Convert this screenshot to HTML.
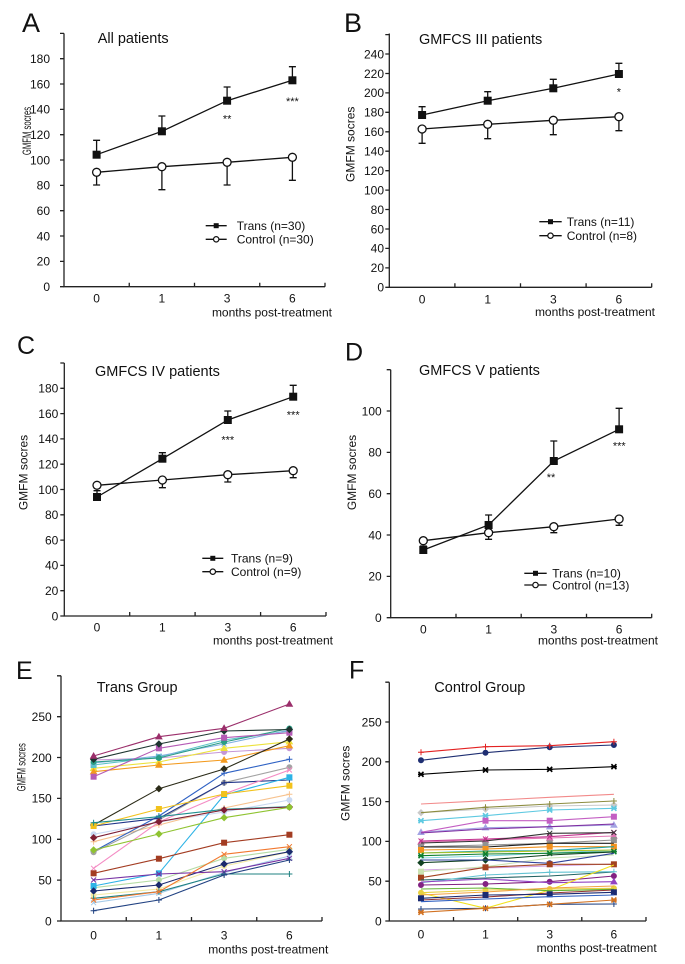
<!DOCTYPE html>
<html><head><meta charset="utf-8"><style>
html,body{margin:0;padding:0;background:#fff}
svg{display:block}
text{font-family:"Liberation Sans",Arial,sans-serif;fill:#111}
.t{font-size:12px}
.ti{font-size:14.5px}
.L{font-size:27px}
.L2{font-size:25px}
.st{font-size:11px}
.ax{fill:none;stroke:#222;stroke-width:1.3}
.ln{fill:none;stroke:#111;stroke-width:1.3}
.sp polyline{fill:none;stroke-width:1.1}
.sp use{stroke-width:1}
</style></head><body>
<svg width="685" height="964" viewBox="0 0 685 964" xmlns="http://www.w3.org/2000/svg">
<defs>
<rect id="s" x="-2.5" y="-2.5" width="5" height="5"/>
<circle id="c" cx="0" cy="0" r="2.5"/>
<polygon id="t" points="0,-3 3,2.2 -3,2.2"/>
<polygon id="d" points="0,-3 3,0 0,3 -3,0"/>
<path id="x" d="M-2.5,-2.5L2.5,2.5M-2.5,2.5L2.5,-2.5" fill="none"/>
<path id="p" d="M-3,0H3M0,-3V3" fill="none"/>
<path id="a" d="M-2.5,-2.5L2.5,2.5M-2.5,2.5L2.5,-2.5M-3,0H3" fill="none" stroke-width="1.6"/>
</defs>

<!-- ================= PANEL A ================= -->
<text class="L" x="22" y="32">A</text>
<text class="ti" x="97.7" y="43">All patients</text>
<path class="ax" d="M64,33.4V286.7H325"/>
<path class="ax" d="M60,286.7h4M60,261.4h4M60,236h4M60,210.7h4M60,185.4h4M60,160h4M60,134.7h4M60,109.4h4M60,84h4M60,58.7h4M60,33.4h4M129.25,286.7v-4M194.5,286.7v-4M259.75,286.7v-4M325,286.7v-4"/>
<g class="t" text-anchor="end">
<text x="50" y="291">0</text><text x="50" y="265.7">20</text><text x="50" y="240.3">40</text><text x="50" y="215">60</text><text x="50" y="189.7">80</text><text x="50" y="164.3">100</text><text x="50" y="139">120</text><text x="50" y="113.7">140</text><text x="50" y="88.3">160</text><text x="50" y="63">180</text>
</g>
<g class="t" text-anchor="middle">
<text x="96.6" y="302.5">0</text><text x="161.9" y="302.5">1</text><text x="227.1" y="302.5">3</text><text x="292.4" y="302.5">6</text>
</g>
<text class="t" x="332" y="316.5" text-anchor="end">months post-treatment</text>
<text class="t" x="0" y="4.3" text-anchor="middle" transform="translate(26.7,131) rotate(-90) scale(0.64,1)">GMFM socres</text>
<path class="ln" d="M96.6,154.7V140.3M93.1,140.3h7M161.9,131.3V116M158.4,116h7M227.1,100.7V87M223.6,87h7M292.4,80.3V66.7M288.9,66.7h7"/>
<path class="ln" d="M96.6,172.3V185M93.1,185h7M161.9,166.7V189.7M158.4,189.7h7M227.1,162.3V185M223.6,185h7M292.4,157.3V180.3M288.9,180.3h7"/>
<polyline class="ln" points="96.6,154.7 161.9,131.3 227.1,100.7 292.4,80.3"/>
<polyline class="ln" points="96.6,172.3 161.9,166.7 227.1,162.3 292.4,157.3"/>
<g fill="#111"><rect x="92.6" y="150.7" width="8" height="8"/><rect x="157.9" y="127.3" width="8" height="8"/><rect x="223.1" y="96.7" width="8" height="8"/><rect x="288.4" y="76.3" width="8" height="8"/></g>
<g fill="#fff" stroke="#111" stroke-width="1.3"><circle cx="96.6" cy="172.3" r="4"/><circle cx="161.9" cy="166.7" r="4"/><circle cx="227.1" cy="162.3" r="4"/><circle cx="292.4" cy="157.3" r="4"/></g>
<text class="st" x="227.1" y="122.7" text-anchor="middle">**</text>
<text class="st" x="292.4" y="105" text-anchor="middle">***</text>
<path class="ln" d="M205.7,225.7H226.7M205.7,239.3H226.7"/>
<rect x="213.7" y="223.2" width="5" height="5" fill="#111"/>
<circle cx="216.2" cy="239.3" r="2.7" fill="#fff" stroke="#111" stroke-width="1.2"/>
<text class="t" x="236.7" y="230">Trans (n=30)</text>
<text class="t" x="236.7" y="243.6">Control (n=30)</text>

<!-- ================= PANEL B ================= -->
<text class="L" x="344" y="32">B</text>
<text class="ti" x="419" y="44">GMFCS III patients</text>
<path class="ax" d="M389.3,33.5V287.3H651.7"/>
<path class="ax" d="M385.3,287.3h4M385.3,267.9h4M385.3,248.4h4M385.3,229h4M385.3,209.5h4M385.3,190.1h4M385.3,170.7h4M385.3,151.2h4M385.3,131.8h4M385.3,112.3h4M385.3,92.9h4M385.3,73.5h4M385.3,54h4M385.3,34.6h4M454.9,287.3v-4M520.5,287.3v-4M586.1,287.3v-4M651.7,287.3v-4"/>
<g class="t" text-anchor="end">
<text x="384" y="291.6">0</text><text x="384" y="272.2">20</text><text x="384" y="252.7">40</text><text x="384" y="233.3">60</text><text x="384" y="213.8">80</text><text x="384" y="194.4">100</text><text x="384" y="175">120</text><text x="384" y="155.5">140</text><text x="384" y="136.1">160</text><text x="384" y="116.6">180</text><text x="384" y="97.2">200</text><text x="384" y="77.8">220</text><text x="384" y="58.3">240</text>
</g>
<g class="t" text-anchor="middle">
<text x="422.1" y="303.5">0</text><text x="487.7" y="303.5">1</text><text x="553.3" y="303.5">3</text><text x="618.9" y="303.5">6</text>
</g>
<text class="t" x="655" y="316" text-anchor="end">months post-treatment</text>
<text class="t" x="0" y="4.3" text-anchor="middle" transform="translate(350,144.3) rotate(-90)">GMFM socres</text>
<path class="ln" d="M422.1,115V106.7M418.6,106.7h7M487.7,100.7V91.7M484.2,91.7h7M553.3,88.3V79.3M549.8,79.3h7M618.9,74V63.3M615.4,63.3h7"/>
<path class="ln" d="M422.1,129V143.3M418.6,143.3h7M487.7,124.3V138.7M484.2,138.7h7M553.3,120.3V134.7M549.8,134.7h7M618.9,116.7V130.7M615.4,130.7h7"/>
<polyline class="ln" points="422.1,115 487.7,100.7 553.3,88.3 618.9,74"/>
<polyline class="ln" points="422.1,129 487.7,124.3 553.3,120.3 618.9,116.7"/>
<g fill="#111"><rect x="418.1" y="111" width="8" height="8"/><rect x="483.7" y="96.7" width="8" height="8"/><rect x="549.3" y="84.3" width="8" height="8"/><rect x="614.9" y="70" width="8" height="8"/></g>
<g fill="#fff" stroke="#111" stroke-width="1.3"><circle cx="422.1" cy="129" r="4"/><circle cx="487.7" cy="124.3" r="4"/><circle cx="553.3" cy="120.3" r="4"/><circle cx="618.9" cy="116.7" r="4"/></g>
<text class="st" x="618.9" y="95.3" text-anchor="middle">*</text>
<path class="ln" d="M539.3,221.7H561.7M539.3,235.7H561.7"/>
<rect x="548" y="219.2" width="5" height="5" fill="#111"/>
<circle cx="550.5" cy="235.7" r="2.7" fill="#fff" stroke="#111" stroke-width="1.2"/>
<text class="t" x="566.7" y="226">Trans (n=11)</text>
<text class="t" x="566.7" y="240">Control (n=8)</text>

<!-- ================= PANEL C ================= -->
<text class="L2" x="17" y="354">C</text>
<text class="ti" x="95" y="376">GMFCS IV patients</text>
<path class="ax" d="M64.3,363V616H326"/>
<path class="ax" d="M60.3,616h4M60.3,590.7h4M60.3,565.4h4M60.3,540.1h4M60.3,514.8h4M60.3,489.5h4M60.3,464.2h4M60.3,438.9h4M60.3,413.6h4M60.3,388.3h4M60.3,363h4M129.7,616v-4M195.1,616v-4M260.6,616v-4M326,616v-4"/>
<g class="t" text-anchor="end">
<text x="58.3" y="620.3">0</text><text x="58.3" y="595">20</text><text x="58.3" y="569.7">40</text><text x="58.3" y="544.4">60</text><text x="58.3" y="519.1">80</text><text x="58.3" y="493.8">100</text><text x="58.3" y="468.5">120</text><text x="58.3" y="443.2">140</text><text x="58.3" y="417.9">160</text><text x="58.3" y="392.6">180</text>
</g>
<g class="t" text-anchor="middle">
<text x="97" y="631.6">0</text><text x="162.4" y="631.6">1</text><text x="227.8" y="631.6">3</text><text x="293.2" y="631.6">6</text>
</g>
<text class="t" x="333" y="644.5" text-anchor="end">months post-treatment</text>
<text class="t" x="0" y="4.3" text-anchor="middle" transform="translate(23.3,472.5) rotate(-90)">GMFM socres</text>
<path class="ln" d="M97,497V490.7M93.5,490.7h7M162.4,458.7V452.7M158.9,452.7h7M227.8,420V411M224.3,411h7M293.2,396.7V385.3M289.7,385.3h7"/>
<path class="ln" d="M162.4,480V487.7M158.9,487.7h7M227.8,474.7V482M224.3,482h7M293.2,470.7V477.7M289.7,477.7h7"/>
<polyline class="ln" points="97,497 162.4,458.7 227.8,420 293.2,396.7"/>
<polyline class="ln" points="97,485.3 162.4,480 227.8,474.7 293.2,470.7"/>
<g fill="#111"><rect x="93" y="493" width="8" height="8"/><rect x="158.4" y="454.7" width="8" height="8"/><rect x="223.8" y="416" width="8" height="8"/><rect x="289.2" y="392.7" width="8" height="8"/></g>
<g fill="#fff" stroke="#111" stroke-width="1.3"><circle cx="97" cy="485.3" r="4"/><circle cx="162.4" cy="480" r="4"/><circle cx="227.8" cy="474.7" r="4"/><circle cx="293.2" cy="470.7" r="4"/></g>
<text class="st" x="227.8" y="443.7" text-anchor="middle">***</text>
<text class="st" x="293.2" y="418.3" text-anchor="middle">***</text>
<path class="ln" d="M202.3,558.3H223.3M202.3,571.7H223.3"/>
<rect x="210.3" y="555.8" width="5" height="5" fill="#111"/>
<circle cx="212.8" cy="571.7" r="2.7" fill="#fff" stroke="#111" stroke-width="1.2"/>
<text class="t" x="231" y="562.6">Trans (n=9)</text>
<text class="t" x="231" y="576">Control (n=9)</text>

<!-- ================= PANEL D ================= -->
<text class="L2" x="345" y="360.7">D</text>
<text class="ti" x="419" y="375">GMFCS V patients</text>
<path class="ax" d="M390.7,369.7V617.7H651.7"/>
<path class="ax" d="M386.7,617.7h4M386.7,576.4h4M386.7,535h4M386.7,493.7h4M386.7,452.4h4M386.7,411h4M386.7,369.7h4M456,617.7v-4M521.2,617.7v-4M586.5,617.7v-4M651.7,617.7v-4"/>
<g class="t" text-anchor="end">
<text x="381.7" y="622">0</text><text x="381.7" y="580.7">20</text><text x="381.7" y="539.3">40</text><text x="381.7" y="498">60</text><text x="381.7" y="456.7">80</text><text x="381.7" y="415.3">100</text>
</g>
<g class="t" text-anchor="middle">
<text x="423.3" y="633.6">0</text><text x="488.6" y="633.6">1</text><text x="553.8" y="633.6">3</text><text x="619.1" y="633.6">6</text>
</g>
<text class="t" x="658" y="644.5" text-anchor="end">months post-treatment</text>
<text class="t" x="0" y="4.3" text-anchor="middle" transform="translate(351.7,472.5) rotate(-90)">GMFM socres</text>
<path class="ln" d="M423.3,550V546M419.8,546h7M488.6,525V515M485.1,515h7M553.8,461V441M550.3,441h7M619.1,429.3V408.3M615.6,408.3h7"/>
<path class="ln" d="M488.6,532.7V539.3M485.1,539.3h7M553.8,526.7V532.7M550.3,532.7h7M619.1,519V525.3M615.6,525.3h7"/>
<polyline class="ln" points="423.3,550 488.6,525 553.8,461 619.1,429.3"/>
<polyline class="ln" points="423.3,540.7 488.6,532.7 553.8,526.7 619.1,519"/>
<g fill="#111"><rect x="419.3" y="546" width="8" height="8"/><rect x="484.6" y="521" width="8" height="8"/><rect x="549.8" y="457" width="8" height="8"/><rect x="615.1" y="425.3" width="8" height="8"/></g>
<g fill="#fff" stroke="#111" stroke-width="1.3"><circle cx="423.3" cy="540.7" r="4"/><circle cx="488.6" cy="532.7" r="4"/><circle cx="553.8" cy="526.7" r="4"/><circle cx="619.1" cy="519" r="4"/></g>
<text class="st" x="551" y="481" text-anchor="middle">**</text>
<text class="st" x="619.3" y="449.3" text-anchor="middle">***</text>
<path class="ln" d="M524.3,573.3H546.7M524.3,585H546.7"/>
<rect x="533" y="570.8" width="5" height="5" fill="#111"/>
<circle cx="535.5" cy="585" r="2.7" fill="#fff" stroke="#111" stroke-width="1.2"/>
<text class="t" x="552.3" y="577.6">Trans (n=10)</text>
<text class="t" x="552.3" y="589.3">Control (n=13)</text>

<!-- ================= PANEL E ================= -->
<text class="L2" x="16" y="679">E</text>
<text class="ti" x="96.7" y="692">Trans Group</text>
<path class="ax" d="M61,675.8V921H322"/>
<path class="ax" d="M57,921h4M57,880.1h4M57,839.3h4M57,798.4h4M57,757.5h4M57,716.7h4M57,675.8h4M126.25,921v-4M191.5,921v-4M256.75,921v-4M322,921v-4"/>
<g class="t" text-anchor="end">
<text x="51.7" y="925.3">0</text><text x="51.7" y="884.4">50</text><text x="51.7" y="843.6">100</text><text x="51.7" y="802.7">150</text><text x="51.7" y="761.8">200</text><text x="51.7" y="721">250</text>
</g>
<g class="t" text-anchor="middle">
<text x="93.6" y="939.6">0</text><text x="158.9" y="939.6">1</text><text x="224.1" y="939.6">3</text><text x="289.4" y="939.6">6</text>
</g>
<text class="t" x="328.3" y="953.5" text-anchor="end">months post-treatment</text>
<text class="t" x="0" y="4.3" text-anchor="middle" transform="translate(21,767.3) rotate(-90) scale(0.64,1)">GMFM socres</text>
<g class="sp">
<g stroke="#f3eba6" fill="#f3eba6"><polyline points="93.6,895 158.9,889 224.1,866 289.4,852"/><use href="#c" x="93.6" y="895"/><use href="#c" x="158.9" y="889"/><use href="#c" x="224.1" y="866"/><use href="#c" x="289.4" y="852"/></g>
<g stroke="#c9d9f2" fill="#c9d9f2"><polyline points="93.6,834.3 158.9,822 224.1,812 289.4,800"/><use href="#c" x="93.6" y="834.3"/><use href="#c" x="158.9" y="822"/><use href="#c" x="224.1" y="812"/><use href="#c" x="289.4" y="800"/></g>
<g stroke="#b6dca6" fill="#b6dca6"><polyline points="93.6,887.7 158.9,880 224.1,858.3 289.4,849.3"/><use href="#c" x="93.6" y="887.7"/><use href="#c" x="158.9" y="880"/><use href="#c" x="224.1" y="858.3"/><use href="#c" x="289.4" y="849.3"/></g>
<g stroke="#a5cbe9" fill="#a5cbe9"><polyline points="93.6,902.7 158.9,893.3 224.1,872.7 289.4,856"/><use href="#x" x="93.6" y="902.7"/><use href="#x" x="158.9" y="893.3"/><use href="#x" x="224.1" y="872.7"/><use href="#x" x="289.4" y="856"/></g>
<g stroke="#f7c28e" fill="#f7c28e"><polyline points="93.6,841.7 158.9,825 224.1,808 289.4,794.3"/><use href="#p" x="93.6" y="841.7"/><use href="#p" x="158.9" y="825"/><use href="#p" x="224.1" y="808"/><use href="#p" x="289.4" y="794.3"/></g>
<g stroke="#c596d6" fill="#c596d6"><polyline points="93.6,760 158.9,758 224.1,752 289.4,748.3"/><use href="#c" x="93.6" y="760"/><use href="#c" x="158.9" y="758"/><use href="#c" x="224.1" y="752"/><use href="#c" x="289.4" y="748.3"/></g>
<g stroke="#ece23c" fill="#ece23c"><polyline points="93.6,768.3 158.9,762 224.1,748.3 289.4,741.7"/><use href="#t" x="93.6" y="768.3"/><use href="#t" x="158.9" y="762"/><use href="#t" x="224.1" y="748.3"/><use href="#t" x="289.4" y="741.7"/></g>
<g stroke="#f39a1e" fill="#f39a1e"><polyline points="93.6,771.7 158.9,765 224.1,760 289.4,745.7"/><use href="#t" x="93.6" y="771.7"/><use href="#t" x="158.9" y="765"/><use href="#t" x="224.1" y="760"/><use href="#t" x="289.4" y="745.7"/></g>
<g stroke="#5cc3c8" fill="#5cc3c8"><polyline points="93.6,765 158.9,757 224.1,740 289.4,731"/><use href="#s" x="93.6" y="765"/><use href="#s" x="158.9" y="757"/><use href="#s" x="224.1" y="740"/><use href="#s" x="289.4" y="731"/></g>
<g stroke="#7fb0e0" fill="#7fb0e0"><polyline points="93.6,763 158.9,756 224.1,744 289.4,730"/><use href="#x" x="93.6" y="763"/><use href="#x" x="158.9" y="756"/><use href="#x" x="224.1" y="744"/><use href="#x" x="289.4" y="730"/></g>
<g stroke="#2a9d85" fill="#2a9d85"><polyline points="93.6,762 158.9,758 224.1,742 289.4,728.5"/><use href="#c" x="93.6" y="762"/><use href="#c" x="158.9" y="758"/><use href="#c" x="224.1" y="742"/><use href="#c" x="289.4" y="728.5"/></g>
<g stroke="#b55bb5" fill="#b55bb5"><polyline points="93.6,776.7 158.9,748.3 224.1,737.7 289.4,732.7"/><use href="#s" x="93.6" y="776.7"/><use href="#s" x="158.9" y="748.3"/><use href="#s" x="224.1" y="737.7"/><use href="#s" x="289.4" y="732.7"/></g>
<g stroke="#1e3530" fill="#1e3530"><polyline points="93.6,759.3 158.9,744 224.1,731 289.4,729.5"/><use href="#d" x="93.6" y="759.3"/><use href="#d" x="158.9" y="744"/><use href="#d" x="224.1" y="731"/><use href="#d" x="289.4" y="729.5"/></g>
<g stroke="#9b2f6b" fill="#9b2f6b"><polyline points="93.6,756 158.9,736.7 224.1,728.3 289.4,704"/><use href="#t" x="93.6" y="756"/><use href="#t" x="158.9" y="736.7"/><use href="#t" x="224.1" y="728.3"/><use href="#t" x="289.4" y="704"/></g>
<g stroke="#2b2b18" fill="#2b2b18"><polyline points="93.6,825 158.9,788.7 224.1,769 289.4,739"/><use href="#d" x="93.6" y="825"/><use href="#d" x="158.9" y="788.7"/><use href="#d" x="224.1" y="769"/><use href="#d" x="289.4" y="739"/></g>
<g stroke="#2f62c4" fill="#2f62c4"><polyline points="93.6,851.5 158.9,816 224.1,773.3 289.4,759.3"/><use href="#p" x="93.6" y="851.5"/><use href="#p" x="158.9" y="816"/><use href="#p" x="224.1" y="773.3"/><use href="#p" x="289.4" y="759.3"/></g>
<g stroke="#a3a3a3" fill="#a3a3a3"><polyline points="93.6,852.3 158.9,820 224.1,782.7 289.4,767.3"/><use href="#c" x="93.6" y="852.3"/><use href="#c" x="158.9" y="820"/><use href="#c" x="224.1" y="782.7"/><use href="#c" x="289.4" y="767.3"/></g>
<g stroke="#1f3488" fill="#1f3488"><polyline points="93.6,826 158.9,818.3 224.1,782.7 289.4,780"/><use href="#p" x="93.6" y="826"/><use href="#p" x="158.9" y="818.3"/><use href="#p" x="224.1" y="782.7"/><use href="#p" x="289.4" y="780"/></g>
<g stroke="#f48cc4" fill="#f48cc4"><polyline points="93.6,868.3 158.9,822 224.1,794 289.4,770"/><use href="#x" x="93.6" y="868.3"/><use href="#x" x="158.9" y="822"/><use href="#x" x="224.1" y="794"/><use href="#x" x="289.4" y="770"/></g>
<g stroke="#2db3e6" fill="#2db3e6"><polyline points="93.6,886 158.9,873.3 224.1,795 289.4,777.3"/><use href="#s" x="93.6" y="886"/><use href="#s" x="158.9" y="873.3"/><use href="#s" x="224.1" y="795"/><use href="#s" x="289.4" y="777.3"/></g>
<g stroke="#f2c21c" fill="#f2c21c"><polyline points="93.6,826 158.9,809 224.1,794 289.4,785.7"/><use href="#s" x="93.6" y="826"/><use href="#s" x="158.9" y="809"/><use href="#s" x="224.1" y="794"/><use href="#s" x="289.4" y="785.7"/></g>
<g stroke="#1f8f8f" fill="#1f8f8f"><polyline points="93.6,822.7 158.9,816.7 224.1,809.3 289.4,806.7"/><use href="#p" x="93.6" y="822.7"/><use href="#p" x="158.9" y="816.7"/><use href="#p" x="224.1" y="809.3"/><use href="#p" x="289.4" y="806.7"/></g>
<g stroke="#7e1f35" fill="#7e1f35"><polyline points="93.6,837.7 158.9,821.7 224.1,810 289.4,807"/><use href="#d" x="93.6" y="837.7"/><use href="#d" x="158.9" y="821.7"/><use href="#d" x="224.1" y="810"/><use href="#d" x="289.4" y="807"/></g>
<g stroke="#8fc331" fill="#8fc331"><polyline points="93.6,850 158.9,834 224.1,817.7 289.4,807.3"/><use href="#d" x="93.6" y="850"/><use href="#d" x="158.9" y="834"/><use href="#d" x="224.1" y="817.7"/><use href="#c" x="289.4" y="807.3"/></g>
<g stroke="#a33c22" fill="#a33c22"><polyline points="93.6,873.3 158.9,858.7 224.1,842.7 289.4,834.7"/><use href="#s" x="93.6" y="873.3"/><use href="#s" x="158.9" y="858.7"/><use href="#s" x="224.1" y="842.7"/><use href="#s" x="289.4" y="834.7"/></g>
<g stroke="#1b2b6e" fill="#1b2b6e"><polyline points="93.6,891 158.9,885 224.1,864 289.4,851.7"/><use href="#d" x="93.6" y="891"/><use href="#d" x="158.9" y="885"/><use href="#d" x="224.1" y="864"/><use href="#d" x="289.4" y="851.7"/></g>
<g stroke="#7631a3" fill="#7631a3"><polyline points="93.6,880 158.9,874 224.1,871.7 289.4,858.3"/><use href="#x" x="93.6" y="880"/><use href="#x" x="158.9" y="874"/><use href="#x" x="224.1" y="871.7"/><use href="#x" x="289.4" y="858.3"/></g>
<g stroke="#1f8080" fill="#1f8080"><polyline points="93.6,898.3 158.9,891.7 224.1,874 289.4,874"/><use href="#p" x="93.6" y="898.3"/><use href="#p" x="158.9" y="891.7"/><use href="#p" x="224.1" y="874"/><use href="#p" x="289.4" y="874"/></g>
<g stroke="#f2782e" fill="#f2782e"><polyline points="93.6,900 158.9,891.7 224.1,854.3 289.4,846.7"/><use href="#x" x="93.6" y="900"/><use href="#x" x="158.9" y="891.7"/><use href="#x" x="224.1" y="854.3"/><use href="#x" x="289.4" y="846.7"/></g>
<g stroke="#214282" fill="#214282"><polyline points="93.6,910.7 158.9,900 224.1,875 289.4,860"/><use href="#p" x="93.6" y="910.7"/><use href="#p" x="158.9" y="900"/><use href="#p" x="224.1" y="875"/><use href="#p" x="289.4" y="860"/></g>
</g>

<!-- ================= PANEL F ================= -->
<text class="L2" x="349" y="678.3">F</text>
<text class="ti" x="434.3" y="692">Control Group</text>
<path class="ax" d="M389.3,682.2V921H646"/>
<path class="ax" d="M385.3,921h4M385.3,881.2h4M385.3,841.4h4M385.3,801.6h4M385.3,761.8h4M385.3,722h4M385.3,682.2h4M453.5,921v-4M517.7,921v-4M581.8,921v-4M646,921v-4"/>
<g class="t" text-anchor="end">
<text x="381.7" y="925.3">0</text><text x="381.7" y="885.5">50</text><text x="381.7" y="845.7">100</text><text x="381.7" y="805.9">150</text><text x="381.7" y="766.1">200</text><text x="381.7" y="726.3">250</text>
</g>
<g class="t" text-anchor="middle">
<text x="421" y="938.3">0</text><text x="485.5" y="938.3">1</text><text x="549.7" y="938.3">3</text><text x="613.9" y="938.3">6</text>
</g>
<text class="t" x="656.7" y="951.8" text-anchor="end">months post-treatment</text>
<text class="t" x="0" y="4.3" text-anchor="middle" transform="translate(345,783.3) rotate(-90)">GMFM socres</text>
<g class="sp">
<g stroke="#f28a8a" fill="#f28a8a"><polyline points="421,804 485.5,800.7 549.7,797.3 613.9,794.3"/></g>
<g stroke="#c9c9c9" fill="#c9c9c9"><polyline points="421,812.7 485.5,809 549.7,806 613.9,805"/><use href="#d" x="421" y="812.7"/><use href="#d" x="485.5" y="809"/><use href="#d" x="549.7" y="806"/><use href="#d" x="613.9" y="805"/></g>
<g stroke="#8c8c3f" fill="#8c8c3f"><polyline points="421,812.7 485.5,807.3 549.7,804 613.9,801"/><use href="#p" x="485.5" y="807.3"/><use href="#p" x="549.7" y="804"/><use href="#p" x="613.9" y="801"/></g>
<g stroke="#5ec9e1" fill="#5ec9e1"><polyline points="421,820.7 485.5,815.7 549.7,810 613.9,808.3"/><use href="#a" x="421" y="820.7"/><use href="#a" x="485.5" y="815.7"/><use href="#a" x="549.7" y="810"/><use href="#a" x="613.9" y="808.3"/></g>
<g stroke="#d2a2e2" fill="#d2a2e2"><polyline points="421,870 485.5,868 549.7,866 613.9,864"/></g>
<g stroke="#cbe2b3" fill="#cbe2b3"><polyline points="421,871.7 485.5,866.7 549.7,858 613.9,855"/><use href="#s" x="421" y="871.7"/></g>
<g stroke="#82d2e2" fill="#82d2e2"><polyline points="421,858 485.5,856 549.7,853 613.9,850"/></g>
<g stroke="#a3a3e3" fill="#a3a3e3"><polyline points="421,832.3 485.5,827.7 549.7,826.7 613.9,825"/><use href="#t" x="421" y="832.3"/><use href="#t" x="485.5" y="827.7"/><use href="#t" x="549.7" y="826.7"/><use href="#t" x="613.9" y="825"/></g>
<g stroke="#c35fc3" fill="#c35fc3"><polyline points="421,832.3 485.5,820.7 549.7,820.7 613.9,816.7"/><use href="#s" x="485.5" y="820.7"/><use href="#s" x="549.7" y="820.7"/><use href="#s" x="613.9" y="816.7"/></g>
<g stroke="#7f2fa1" fill="#7f2fa1"><polyline points="421,833 485.5,829 549.7,826.7 613.9,824"/></g>
<g stroke="#e274b3" fill="#e274b3"><polyline points="421,842 485.5,840 549.7,838 613.9,836"/><use href="#t" x="421" y="842"/><use href="#t" x="485.5" y="840"/><use href="#t" x="549.7" y="838"/><use href="#t" x="613.9" y="836"/></g>
<g stroke="#c3328f" fill="#c3328f"><polyline points="421,841 485.5,839 549.7,836.7 613.9,832.3"/><use href="#x" x="421" y="841"/><use href="#x" x="485.5" y="839"/><use href="#x" x="549.7" y="836.7"/><use href="#x" x="613.9" y="832.3"/></g>
<g stroke="#333333" fill="#333333"><polyline points="421,843 485.5,841 549.7,833.3 613.9,832.7"/><use href="#x" x="549.7" y="833.3"/><use href="#x" x="613.9" y="832.7"/></g>
<g stroke="#929292" fill="#929292"><polyline points="421,846.7 485.5,845 549.7,843.3 613.9,840"/><use href="#s" x="421" y="846.7"/><use href="#s" x="485.5" y="845"/><use href="#s" x="549.7" y="843.3"/><use href="#s" x="613.9" y="840"/></g>
<g stroke="#1e1e1e" fill="#1e1e1e"><polyline points="421,847 485.5,847 549.7,843.3 613.9,843.3"/></g>
<g stroke="#f2921e" fill="#f2921e"><polyline points="421,850 485.5,849 549.7,846.7 613.9,846.7"/><use href="#s" x="421" y="850"/><use href="#s" x="485.5" y="849"/><use href="#s" x="549.7" y="846.7"/><use href="#s" x="613.9" y="846.7"/></g>
<g stroke="#1fa3a3" fill="#1fa3a3"><polyline points="421,853 485.5,851 549.7,850.7 613.9,846.7"/></g>
<g stroke="#b3c31f" fill="#b3c31f"><polyline points="421,853 485.5,852 549.7,851 613.9,850"/></g>
<g stroke="#0f8030" fill="#0f8030"><polyline points="421,855.7 485.5,854 549.7,853.3 613.9,851.7"/><use href="#a" x="421" y="855.7"/><use href="#a" x="485.5" y="854"/><use href="#a" x="549.7" y="853.3"/><use href="#a" x="613.9" y="851.7"/></g>
<g stroke="#124222" fill="#124222"><polyline points="421,862.7 485.5,860 549.7,855 613.9,852"/><use href="#d" x="421" y="862.7"/><use href="#d" x="485.5" y="860"/></g>
<g stroke="#30429a" fill="#30429a"><polyline points="421,860 485.5,860 549.7,863.3 613.9,853.3"/><use href="#c" x="549.7" y="863.3"/></g>
<g stroke="#a3421f" fill="#a3421f"><polyline points="421,877.7 485.5,867.3 549.7,864.3 613.9,864.3"/><use href="#s" x="421" y="877.7"/><use href="#s" x="485.5" y="867.3"/><use href="#s" x="549.7" y="864.3"/><use href="#s" x="613.9" y="864.3"/></g>
<g stroke="#226262" fill="#226262"><polyline points="421,880 485.5,878 549.7,876 613.9,872"/></g>
<g stroke="#62c2d2" fill="#62c2d2"><polyline points="421,882.7 485.5,875 549.7,872.3 613.9,871.7"/><use href="#p" x="485.5" y="875"/><use href="#p" x="549.7" y="872.3"/><use href="#p" x="613.9" y="871.7"/></g>
<g stroke="#822282" fill="#822282"><polyline points="421,885 485.5,884 549.7,881.7 613.9,876"/><use href="#c" x="421" y="885"/><use href="#c" x="485.5" y="884"/><use href="#c" x="549.7" y="881.7"/><use href="#c" x="613.9" y="876"/></g>
<g stroke="#9242c2" fill="#9242c2"><polyline points="421,882 485.5,879 549.7,882.7 613.9,881.7"/><use href="#t" x="613.9" y="881.7"/></g>
<g stroke="#f2e21f" fill="#f2e21f"><polyline points="421,893 485.5,908.3 549.7,890 613.9,865"/></g>
<g stroke="#e8d040" fill="#e8d040"><polyline points="421,892.7 485.5,890 549.7,889 613.9,888.3"/><use href="#c" x="421" y="892.7"/><use href="#c" x="485.5" y="890"/><use href="#c" x="549.7" y="889"/><use href="#c" x="613.9" y="888.3"/></g>
<g stroke="#62b232" fill="#62b232"><polyline points="421,889 485.5,888 549.7,890.7 613.9,889.3"/></g>
<g stroke="#f2a242" fill="#f2a242"><polyline points="421,895 485.5,892 549.7,888 613.9,886"/></g>
<g stroke="#923232" fill="#923232"><polyline points="421,900 485.5,897 549.7,893 613.9,890"/></g>
<g stroke="#1b2b72" fill="#1b2b72"><polyline points="421,898.3 485.5,895 549.7,894.3 613.9,892.3"/><use href="#s" x="421" y="898.3"/><use href="#s" x="485.5" y="895"/><use href="#s" x="549.7" y="894.3"/><use href="#s" x="613.9" y="892.3"/></g>
<g stroke="#3262c2" fill="#3262c2"><polyline points="421,901.7 485.5,899 549.7,896.7 613.9,895"/></g>
<g stroke="#204282" fill="#204282"><polyline points="421,909 485.5,908.3 549.7,904.3 613.9,904"/><use href="#p" x="421" y="909"/><use href="#p" x="485.5" y="908.3"/><use href="#p" x="549.7" y="904.3"/><use href="#p" x="613.9" y="904"/></g>
<g stroke="#d27222" fill="#d27222"><polyline points="421,912.3 485.5,908.3 549.7,904.3 613.9,900"/><use href="#a" x="421" y="912.3"/><use href="#a" x="485.5" y="908.3"/><use href="#a" x="549.7" y="904.3"/><use href="#a" x="613.9" y="900"/></g>
<g stroke="#000000" fill="#000000"><polyline points="421,774.3 485.5,770 549.7,769.3 613.9,766.7"/><use href="#a" x="421" y="774.3"/><use href="#a" x="485.5" y="770"/><use href="#a" x="549.7" y="769.3"/><use href="#a" x="613.9" y="766.7"/></g>
<g stroke="#1f2f72" fill="#1f2f72"><polyline points="421,760.3 485.5,752.7 549.7,747.3 613.9,745"/><use href="#c" x="421" y="760.3"/><use href="#c" x="485.5" y="752.7"/><use href="#c" x="549.7" y="747.3"/><use href="#c" x="613.9" y="745"/></g>
<g stroke="#e32222" fill="#e32222"><polyline points="421,752.3 485.5,746.7 549.7,745.7 613.9,741.7"/><use href="#p" x="421" y="752.3"/><use href="#p" x="485.5" y="746.7"/><use href="#p" x="549.7" y="745.7"/><use href="#p" x="613.9" y="741.7"/></g>
</g>
</svg>
</body></html>
